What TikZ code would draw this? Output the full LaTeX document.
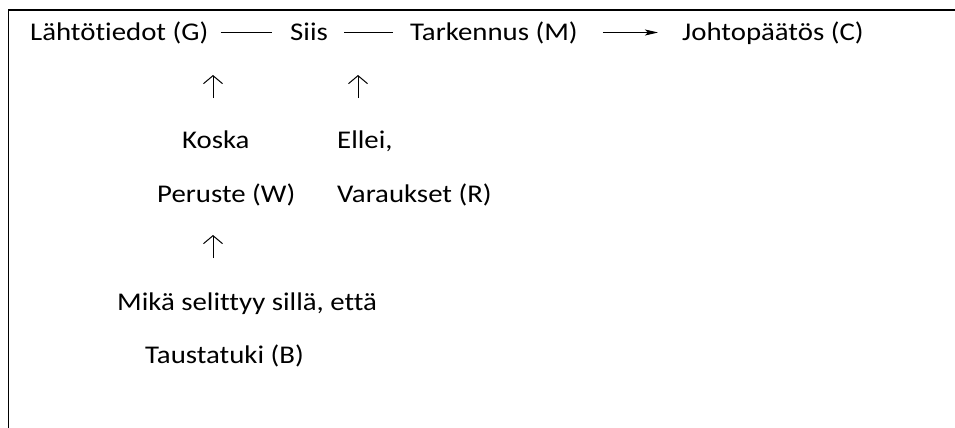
\documentclass[tikz,border=0pt]{standalone}
\usepackage{fontspec}
\setmainfont[FakeStretch=1.13,Ligatures=NoCommon]{Carlito}
\usetikzlibrary{arrows.meta}
\begin{document}
\begin{tikzpicture}[x=1pt,y=-1pt,
  lbl/.style={inner sep=0pt, anchor=base west, font=\fontsize{25.5}{30}\selectfont},
  link/.style={line width=0.8pt},
  leadto/.style={line width=0.8pt, -{Stealth[length=13pt,width=6pt,inset=3pt]}},
  uparrow/.style={line width=1pt, -{Straight Barb[length=8pt,width=19pt]}},
  frame/.style={line width=1.8pt}
]
\useasboundingbox (0,0) rectangle (955,428);
% open frame: top and left edges only
\draw[frame] (955,10) -- (8.5,10) -- (8.5,428);

% top row
\node[lbl] (G) at (30,41) {Lähtötiedot (G)};
\node[lbl] (Siis) at (290,41) {Siis};
\node[lbl] (M) at (410,41) {Tarkennus (M)};
\node[lbl] (C) at (682,41) {Johtopäätös (C)};

% connectors of the top row, at mid-height of the text
\path (G.base east) ++(12,-8.5) coordinate (l1a);
\path (Siis.base west) ++(-18,-8.5) coordinate (l1b);
\path (Siis.base east) ++(16,-8.5) coordinate (l2a);
\path (M.base west) ++(-17,-8.5) coordinate (l2b);
\path (M.base east) ++(25,-8.5) coordinate (l3a);
\path (C.base west) ++(-24,-8.5) coordinate (l3b);
\draw[link] (l1a) -- (l1b);
\draw[link] (l2a) -- (l2b);
\draw[leadto] (l3a) -- (l3b);

% warrant and rebuttal
\node[lbl] (Koska) at (182,148) {Koska};
\node[lbl] (Ellei) at (337,148) {Ellei,};
\node[lbl] (W) at (157,202) {Peruste (W)};
\node[lbl] (R) at (337,202) {Varaukset (R)};

% backing
\node[lbl] (Mika) at (117,310) {Mikä selittyy sillä, että};
\node[lbl] (B) at (145,363) {Taustatuki (B)};

% upward arrows
\coordinate (u1s) at (213,98);  \coordinate (u1e) at (213,75);
\coordinate (u2s) at (358,98);  \coordinate (u2e) at (358,75);
\coordinate (u3s) at (213,258); \coordinate (u3e) at (213,235);
\draw[uparrow] (u1s) -- (u1e);
\draw[uparrow] (u2s) -- (u2e);
\draw[uparrow] (u3s) -- (u3e);
\end{tikzpicture}
\end{document}
